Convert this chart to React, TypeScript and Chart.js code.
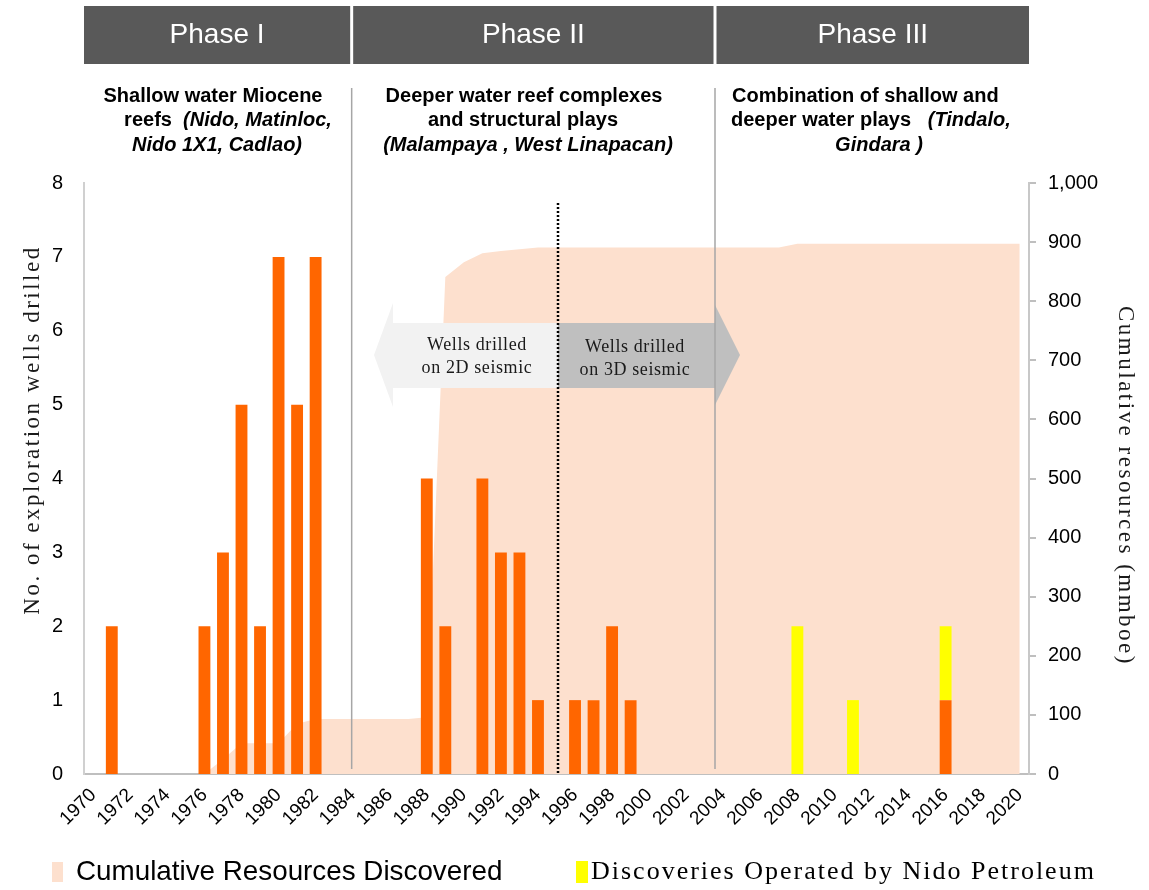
import React, { useEffect, useRef } from 'react';
import { Chart, registerables } from 'chart.js';

Chart.register(...registerables);

const years = [
  '1970', '1971', '1972', '1973', '1974', '1975', '1976', '1977', '1978', '1979',
  '1980', '1981', '1982', '1983', '1984', '1985', '1986', '1987', '1988', '1989',
  '1990', '1991', '1992', '1993', '1994', '1995', '1996', '1997', '1998', '1999',
  '2000', '2001', '2002', '2003', '2004', '2005', '2006', '2007', '2008', '2009',
  '2010', '2011', '2012', '2013', '2014', '2015', '2016', '2017', '2018', '2019',
  '2020',
];

// Exploration wells drilled (orange)
const wellsDrilled = [
  0, 2, 0, 0, 0, 0, 2, 3, 5, 2,
  7, 5, 7, 0, 0, 0, 0, 0, 4, 2,
  0, 4, 3, 3, 1, 0, 1, 1, 2, 1,
  0, 0, 0, 0, 0, 0, 0, 0, 0, 0,
  0, 0, 0, 0, 0, 0, 1, 0, 0, 0,
  0,
];

// Discoveries operated by Nido Petroleum (yellow)
const nidoOperated = [
  0, 0, 0, 0, 0, 0, 0, 0, 0, 0,
  0, 0, 0, 0, 0, 0, 0, 0, 0, 0,
  0, 0, 0, 0, 0, 0, 0, 0, 0, 0,
  0, 0, 0, 0, 0, 0, 0, 0, 2, 0,
  0, 1, 0, 0, 0, 0, 1, 0, 0, 0,
  0,
];

// Cumulative resources discovered (mmboe)
const cumulativeResources = [
  null, null, null, null, null, null, 0, 25, 52, 52,
  52, 85, 93, 93, 93, 93, 93, 93, 96, 841,
  866, 881, 885, 888, 891, 891, 891, 891, 891, 891,
  891, 891, 891, 891, 891, 891, 891, 891, 897, 897,
  897, 897, 897, 897, 897, 897, 897, 897, 897, 897,
  897,
];

const phaseLabels = ['Phase I', 'Phase II', 'Phase III'];

const ORANGE = '#FF6600';
const YELLOW = '#FFFF00';
const PEACH = '#FDE0CE';
const SANS = '"Liberation Sans", Arial, sans-serif';
const SERIF = '"Liberation Serif", "Times New Roman", serif';

type Seg = { t: string; i?: boolean };

function drawRich(ctx: CanvasRenderingContext2D, segs: Seg[], x: number, y: number, align: 'left' | 'center', size: number) {
  const fontOf = (s: Seg) => `${s.i ? 'italic ' : ''}bold ${size}px ${SANS}`;
  let total = 0;
  for (const s of segs) {
    ctx.font = fontOf(s);
    total += ctx.measureText(s.t).width;
  }
  let cx = align === 'center' ? x - total / 2 : x;
  ctx.textAlign = 'left';
  ctx.textBaseline = 'middle';
  for (const s of segs) {
    ctx.font = fontOf(s);
    ctx.fillText(s.t, cx, y);
    cx += ctx.measureText(s.t).width;
  }
}

const overlayPlugin = {
  id: 'overlay',
  afterDatasetsDraw(chart: any) {
    const { ctx, chartArea: ca, scales } = chart;
    const x = scales.x;
    const cx = (yr: string) => x.getPixelForValue(years.indexOf(yr));
    const half = (x.getPixelForValue(1) - x.getPixelForValue(0)) / 2;
    const line1 = cx('1984') - 1;
    const line2 = cx('2003') + half + 1;
    const dotted = cx('1995') + 1.5;

    ctx.save();
    // left arrow (2D)
    ctx.fillStyle = '#F2F2F2';
    ctx.beginPath();
    ctx.moveTo(374, 355);
    ctx.lineTo(393, 303);
    ctx.lineTo(393, 323);
    ctx.lineTo(dotted, 323);
    ctx.lineTo(dotted, 388);
    ctx.lineTo(393, 388);
    ctx.lineTo(393, 407);
    ctx.closePath();
    ctx.fill();
    // right arrow (3D)
    ctx.fillStyle = '#BFBFBF';
    ctx.beginPath();
    ctx.moveTo(dotted, 323);
    ctx.lineTo(line2, 323);
    ctx.lineTo(line2, 305);
    ctx.lineTo(line2 + 25, 355);
    ctx.lineTo(line2, 405);
    ctx.lineTo(line2, 388);
    ctx.lineTo(dotted, 388);
    ctx.closePath();
    ctx.fill();

    ctx.fillStyle = '#1a1a1a';
    ctx.font = `18px ${SERIF}`;
    (ctx as any).letterSpacing = '0.6px';
    ctx.textAlign = 'center';
    ctx.textBaseline = 'middle';
    ctx.fillText('Wells drilled', 477, 345);
    ctx.fillText('on 2D seismic', 477, 368);
    ctx.fillText('Wells drilled', 635, 347);
    ctx.fillText('on 3D seismic', 635, 370);
    (ctx as any).letterSpacing = '0px';

    // dotted separator
    ctx.strokeStyle = '#000';
    ctx.lineWidth = 2.5;
    ctx.setLineDash([2, 2]);
    ctx.beginPath();
    ctx.moveTo(dotted, 203);
    ctx.lineTo(dotted, ca.bottom);
    ctx.stroke();
    ctx.setLineDash([]);

    // phase lines
    ctx.strokeStyle = '#A6A6A6';
    ctx.lineWidth = 1.5;
    for (const lx of [line1, line2]) {
      ctx.beginPath();
      ctx.moveTo(lx, 88);
      ctx.lineTo(lx, ca.bottom - 5);
      ctx.stroke();
    }
    ctx.restore();
  },
  afterDraw(chart: any) {
    const { ctx, chartArea: ca, scales } = chart;
    const x = scales.x;
    const cx = (yr: string) => x.getPixelForValue(years.indexOf(yr));
    const half = (x.getPixelForValue(1) - x.getPixelForValue(0)) / 2;
    const line1 = cx('1984') - 1;
    const line2 = cx('2003') + half + 1;

    ctx.save();
    // header boxes
    const boxes = [
      [ca.left, line1 - 1.5],
      [line1 + 1.5, line2 - 1.5],
      [line2 + 1.5, ca.right],
    ];
    boxes.forEach(([l, r], i) => {
      ctx.fillStyle = '#595959';
      ctx.fillRect(l, 6, r - l, 58);
      ctx.fillStyle = '#FFFFFF';
      ctx.font = `28px ${SANS}`;
      ctx.textAlign = 'center';
      ctx.textBaseline = 'middle';
      ctx.fillText(phaseLabels[i], (l + r) / 2, 35);
    });

    // phase descriptions
    ctx.fillStyle = '#000';
    const fs = 20;
    drawRich(ctx, [{ t: 'Shallow water Miocene' }], 213, 96, 'center', fs);
    drawRich(ctx, [{ t: 'reefs  ' }, { t: '(Nido, Matinloc,', i: true }], 228, 120, 'center', fs);
    drawRich(ctx, [{ t: 'Nido 1X1, Cadlao)', i: true }], 217, 145, 'center', fs);

    drawRich(ctx, [{ t: 'Deeper water reef complexes' }], 524, 96, 'center', fs);
    drawRich(ctx, [{ t: 'and structural plays' }], 523, 120, 'center', fs);
    drawRich(ctx, [{ t: '(Malampaya , West Linapacan)', i: true }], 528, 145, 'center', fs);

    drawRich(ctx, [{ t: 'Combination of shallow and' }], 732, 96, 'left', fs);
    drawRich(ctx, [{ t: 'deeper water plays   ' }, { t: '(Tindalo,', i: true }], 731, 120, 'left', fs);
    drawRich(ctx, [{ t: 'Gindara )', i: true }], 879, 145, 'center', fs);

    // axis titles
    ctx.fillStyle = '#1a1a1a';
    ctx.font = `23px ${SERIF}`;
    (ctx as any).letterSpacing = '2.5px';
    ctx.textAlign = 'center';
    ctx.textBaseline = 'middle';
    ctx.save();
    ctx.translate(33, 430);
    ctx.rotate(-Math.PI / 2);
    ctx.fillText('No. of exploration wells drilled', 0, 0);
    ctx.restore();
    ctx.save();
    ctx.translate(1125, 486);
    ctx.rotate(Math.PI / 2);
    ctx.fillText('Cumulative resources (mmboe)', 0, 0);
    ctx.restore();
    (ctx as any).letterSpacing = '0px';

    // legend
    ctx.fillStyle = PEACH;
    ctx.fillRect(52, 862, 11, 20);
    ctx.fillStyle = '#000';
    ctx.font = `27.8px ${SANS}`;
    ctx.textAlign = 'left';
    ctx.textBaseline = 'middle';
    ctx.fillText('Cumulative Resources Discovered', 76, 872);

    ctx.fillStyle = YELLOW;
    ctx.fillRect(576, 861, 12, 22);
    ctx.fillStyle = '#000';
    ctx.font = `26px ${SERIF}`;
    (ctx as any).letterSpacing = '2px';
    ctx.fillText('Discoveries Operated by Nido Petroleum', 591, 872);
    (ctx as any).letterSpacing = '0px';
    ctx.restore();
  },
};

export default function App() {
  const canvasRef = useRef<HTMLCanvasElement | null>(null);

  useEffect(() => {
    if (!canvasRef.current) return;
    const chart = new Chart(canvasRef.current, {
      type: 'bar',
      data: {
        labels: years,
        datasets: [
          {
            type: 'bar',
            label: 'Exploration wells drilled',
            data: wellsDrilled,
            backgroundColor: ORANGE,
            borderWidth: 0,
            stack: 'wells',
            yAxisID: 'y',
            order: 1,
            barPercentage: 0.64,
            categoryPercentage: 1,
          },
          {
            type: 'bar',
            label: 'Discoveries Operated by Nido Petroleum',
            data: nidoOperated,
            backgroundColor: YELLOW,
            borderWidth: 0,
            stack: 'wells',
            yAxisID: 'y',
            order: 1,
            barPercentage: 0.64,
            categoryPercentage: 1,
          },
          {
            type: 'line',
            label: 'Cumulative Resources Discovered',
            data: cumulativeResources as any,
            yAxisID: 'y2',
            fill: 'origin',
            backgroundColor: PEACH,
            borderWidth: 0,
            borderColor: 'rgba(0,0,0,0)',
            pointRadius: 0,
            tension: 0,
            spanGaps: false,
            order: 2,
          } as any,
        ],
      },
      options: {
        responsive: false,
        animation: false,
        devicePixelRatio: 1,
        layout: { padding: { top: 183, left: 0, right: 0, bottom: 0 } },
        plugins: {
          legend: { display: false },
          tooltip: { enabled: false },
          title: { display: false },
        },
        scales: {
          x: {
            stacked: true,
            offset: true,
            grid: { display: false },
            border: { display: true, color: '#BFBFBF', width: 2 },
            ticks: {
              autoSkip: false,
              maxRotation: 45,
              minRotation: 45,
              padding: 2,
              color: '#000',
              font: { family: SANS, size: 19 },
              callback: (_v: any, idx: number) => (idx % 2 === 0 ? years[idx] : ''),
            },
            afterFit: (s: any) => { s.height = 116; },
          },
          y: {
            stacked: true,
            position: 'left',
            min: 0,
            max: 8,
            grid: { display: false, drawTicks: false },
            border: { display: true, color: '#D0D0D0', width: 2 },
            ticks: {
              stepSize: 1,
              padding: 21,
              color: '#000',
              font: { family: SANS, size: 20 },
            },
            afterFit: (s: any) => { s.width = 84; },
          },
          y2: {
            position: 'right',
            min: 0,
            max: 1000,
            grid: { display: true, drawOnChartArea: false, drawTicks: true, tickLength: 7, color: '#BFBFBF', lineWidth: 2 },
            border: { display: true, color: '#C8C8C8', width: 2 },
            ticks: {
              stepSize: 100,
              padding: 12,
              color: '#000',
              font: { family: SANS, size: 20 },
            },
            afterFit: (s: any) => { s.width = 120; },
          },
        },
      },
      plugins: [overlayPlugin],
    });
    return () => chart.destroy();
  }, []);

  return (
    <div style={{ position: 'absolute', left: 0, top: 0, width: 1149, height: 890, background: '#fff' }}>
      <canvas ref={canvasRef} width={1149} height={890} />
    </div>
  );
}
